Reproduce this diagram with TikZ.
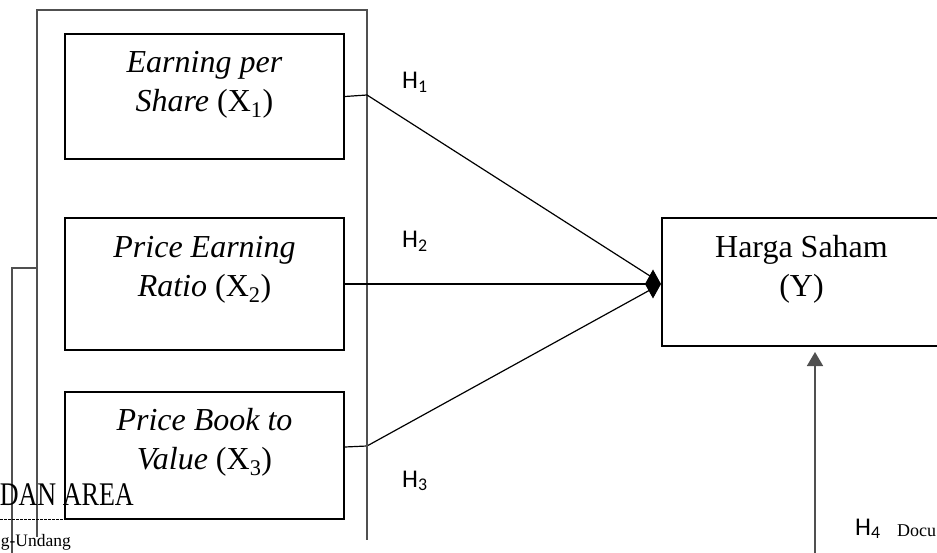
\documentclass[tikz,border=0pt]{standalone}
\usepackage{fontspec}
\setmainfont{Liberation Serif}
\newfontfamily\hfont{Carlito}
\usetikzlibrary{arrows.meta,calc}
\definecolor{frameg}{HTML}{505050}
\tikzset{
  vbox/.style={draw=black, line width=2pt, rectangle, inner sep=0pt, anchor=north west},
  txt/.style={font=\fontsize{32}{39}\selectfont, align=center, inner sep=0pt, anchor=north},
  hl/.style={font=\hfont\fontsize{25.5}{28}\selectfont, inner sep=0pt, anchor=base west},
  frame/.style={draw=frameg, line width=1.6pt},
  conn/.style={draw=black, line width=1.2pt},
}
\begin{document}
\begin{tikzpicture}[x=1pt,y=-1pt]
\clip (0,0) rectangle (937,553);
\fill[white] (0,0) rectangle (937,553);
% outer frame
\draw[frame] (37,537) -- (37,10) -- (367,10) -- (367,540);
\draw[frame] (37,268) -- (12,268) -- (12,560);
% boxes
\node[vbox, minimum width=279pt, minimum height=125pt] (b1) at (64,33) {};
\node[vbox, minimum width=279pt, minimum height=132pt] (b2) at (64,217) {};
\node[vbox, minimum width=279pt, minimum height=127pt] (b3) at (64,391) {};
\node[vbox, minimum width=279pt, minimum height=128pt] (hs) at (661,217) {};
% texts
\node[txt] (t1) at ($(b1.north)+(0,9)$) {\rule{0pt}{30pt}\textit{Earning per}\\\textit{Share} (X\textsubscript{1})};
\node[txt] (t2) at ($(b2.north)+(0,10)$) {\rule{0pt}{30pt}\textit{Price Earning}\\\textit{Ratio} (X\textsubscript{2})};
\node[txt] (t3) at ($(b3.north)+(0,9)$) {\rule{0pt}{30pt}\textit{Price Book to}\\\textit{Value} (X\textsubscript{3})};
\node[txt] (ty) at ($(hs.north)+(0,10)$) {\rule{0pt}{30pt}Harga Saham\\(Y)};
% connectors
\coordinate (j1) at (367,95);
\coordinate (j3) at (367,446);
\coordinate (d1) at (650,276);
\coordinate (d3) at (650,290);
\draw[conn] (b1.east) -- (j1) -- (d1);
\draw[conn, -{Diamond[length=16pt,width=29pt]}] (b2.east) -- (b2.east -| hs.west);
\draw[conn] ($(b3.east)+(0,-8.5)$) -- (j3) -- (d3);
\draw[frame] (367,300) -- (367,540);
% up arrow
\coordinate (a4) at (815,560);
\draw[frame, -{Triangle[length=14pt,width=16pt]}, shorten >=5pt] (a4) -- (a4 |- hs.south);
% labels
\node[hl] (h1) at (402,89) {H\textsubscript{1}};
\node[hl] (h2) at (402,248) {H\textsubscript{2}};
\node[hl] (h3) at (402,487) {H\textsubscript{3}};
\node[hl] (h4) at (855,535) {H\textsubscript{4}};
\node[font=\fontsize{18}{20}\selectfont, inner sep=0pt, anchor=base west] (doc) at (897,536) {Docu};
% watermark fragments
\node[font=\fontsize{33}{36}\selectfont, inner sep=0pt, anchor=base east] (wm) at (134,505) {\scalebox{0.79}[1]{DAN AREA}};
\draw[black, line width=0.8pt, dash pattern=on 2.5pt off 1.5pt] (0,519) -- (70,519);
\node[font=\fontsize{17.5}{20}\selectfont, inner sep=0pt, anchor=base east] (uu) at (71,546) {g-Undang};
\end{tikzpicture}
\end{document}
